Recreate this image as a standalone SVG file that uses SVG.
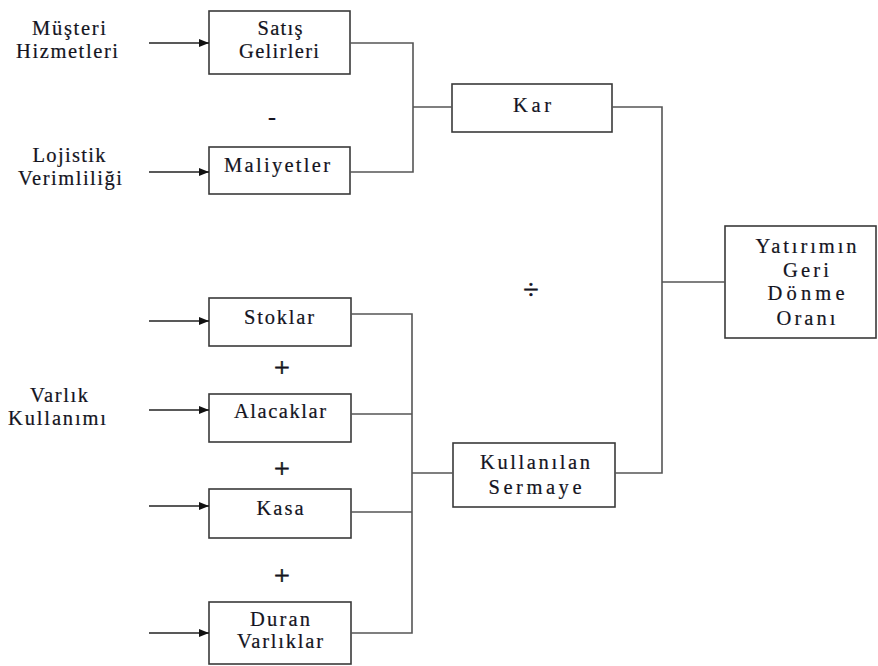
<svg xmlns="http://www.w3.org/2000/svg" width="878" height="666" viewBox="0 0 878 666">
  <style>
    .box { fill: #ffffff; stroke: #3a3a3a; stroke-width: 1.6; }
    .wire { fill: none; stroke: #555555; stroke-width: 1.6; }
    .feed { fill: none; stroke: #222222; stroke-width: 1.4; marker-end: url(#tip); }
    text { font-family: "Liberation Serif", "Times New Roman", serif; font-size: 20.5px; fill: #14141e; stroke: #14141e; stroke-width: 0.2; text-anchor: middle; }
    .op { font-size: 28px; stroke-width: 0.6; }
    .minus { font-size: 24px; font-weight: bold; }
  </style>
  <defs>
    <marker id="tip" viewBox="0 0 10 8" refX="10" refY="4" markerWidth="10" markerHeight="8" markerUnits="userSpaceOnUse" orient="auto">
      <path d="M0,0 L10,4 L0,8 Z" fill="#111111"/>
    </marker>
  </defs>

  <rect width="878" height="666" fill="#ffffff"/>

  <!-- driver labels -->
  <g id="musteri-hizmetleri">
    <text x="69" y="35" textLength="74">Müşteri</text>
    <text x="67" y="58" textLength="102">Hizmetleri</text>
  </g>
  <g id="lojistik-verimliligi">
    <text x="69" y="162" textLength="73">Lojistik</text>
    <text x="70" y="185" textLength="104">Verimliliği</text>
  </g>
  <g id="varlik-kullanimi">
    <text x="59" y="402" textLength="58">Varlık</text>
    <text x="57" y="425" textLength="98">Kullanımı</text>
  </g>

  <!-- nodes -->
  <g id="satis-gelirleri">
    <rect class="box" x="209" y="11" width="141" height="63"/>
    <text x="280" y="35" textLength="45">Satış</text>
    <text x="279" y="58" textLength="80">Gelirleri</text>
  </g>
  <g id="maliyetler">
    <rect class="box" x="209" y="147" width="141" height="47"/>
    <text x="277" y="172" textLength="106">Maliyetler</text>
  </g>
  <g id="kar">
    <rect class="box" x="452" y="84" width="160" height="48"/>
    <text x="532" y="112" textLength="38">Kar</text>
  </g>
  <g id="yatirimin-geri-donme-orani">
    <rect class="box" x="725" y="226" width="151" height="112"/>
    <text x="806" y="253" textLength="101">Yatırımın</text>
    <text x="806" y="277" textLength="46">Geri</text>
    <text x="806" y="300" textLength="77">Dönme</text>
    <text x="806" y="325" textLength="59">Oranı</text>
  </g>
  <g id="stoklar">
    <rect class="box" x="209" y="298" width="142" height="48"/>
    <text x="279" y="324" textLength="70">Stoklar</text>
  </g>
  <g id="alacaklar">
    <rect class="box" x="209" y="394" width="142" height="48"/>
    <text x="280" y="418" textLength="92">Alacaklar</text>
  </g>
  <g id="kasa">
    <rect class="box" x="209" y="489" width="142" height="49"/>
    <text x="280" y="515" textLength="47">Kasa</text>
  </g>
  <g id="duran-varliklar">
    <rect class="box" x="209" y="602" width="142" height="62"/>
    <text x="280" y="626" textLength="60">Duran</text>
    <text x="280" y="648" textLength="86">Varlıklar</text>
  </g>
  <g id="kullanilan-sermaye">
    <rect class="box" x="453" y="443" width="162" height="64"/>
    <text x="535" y="469" textLength="110">Kullanılan</text>
    <text x="535" y="494" textLength="93">Sermaye</text>
  </g>

  <!-- operators -->
  <g id="operators">
    <text class="minus" x="272" y="125">-</text>
    <text class="op" x="282" y="377">+</text>
    <text class="op" x="282" y="478">+</text>
    <text class="op" x="282" y="585">+</text>
    <text class="op" x="531" y="299">÷</text>
  </g>

  <!-- connectors -->
  <g id="connectors">
    <line class="feed" x1="149" y1="43" x2="209" y2="43"/>
    <line class="feed" x1="149" y1="172" x2="209" y2="172"/>
    <line class="feed" x1="149" y1="321" x2="209" y2="321"/>
    <line class="feed" x1="149" y1="410" x2="209" y2="410"/>
    <line class="feed" x1="149" y1="506" x2="209" y2="506"/>
    <line class="feed" x1="149" y1="633" x2="209" y2="633"/>

    <path class="wire" d="M350,43 H413 V172 H350 M413,107 H452"/>
    <path class="wire" d="M612,107 H662 V473 H615 M662,282 H725"/>
    <path class="wire" d="M351,314 H412 V633 H351 M351,414 H412 M351,512 H412 M412,473 H453"/>
  </g>
</svg>
